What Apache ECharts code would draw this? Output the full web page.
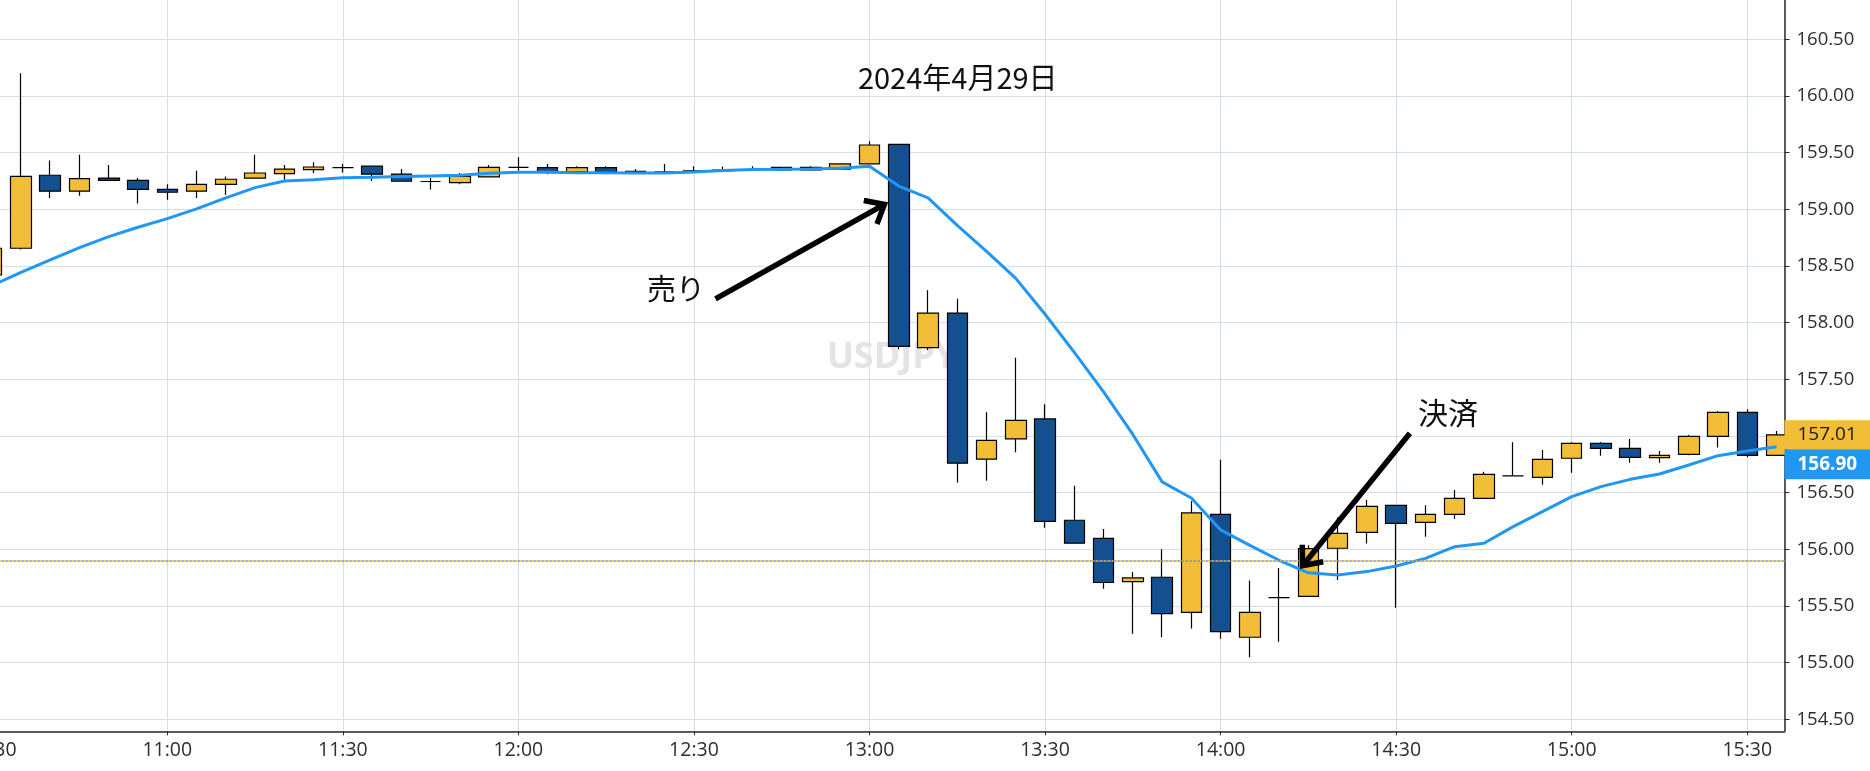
<!DOCTYPE html>
<html>
<head>
<meta charset="utf-8">
<script src="https://cdn.jsdelivr.net/npm/echarts@6/dist/echarts.min.js"></script>
<style>
html,body{margin:0;padding:0;background:#fff;}
#c{width:1870px;height:771px;}
</style>
</head>
<body>
<div id="c"></div>
<script>
// ---------- data ----------
const times = ['10:30','10:35','10:40','10:45','10:50','10:55','11:00','11:05','11:10','11:15',
  '11:20','11:25','11:30','11:35','11:40','11:45','11:50','11:55','12:00','12:05',
  '12:10','12:15','12:20','12:25','12:30','12:35','12:40','12:45','12:50','12:55',
  '13:00','13:05','13:10','13:15','13:20','13:25','13:30','13:35','13:40','13:45',
  '13:50','13:55','14:00','14:05','14:10','14:15','14:20','14:25','14:30','14:35',
  '14:40','14:45','14:50','14:55','15:00','15:05','15:10','15:15','15:20','15:25',
  '15:30','15:35'];
const opens = [158.42,158.656,159.30,159.16,159.275,159.255,159.175,159.16,159.22,159.275,
  159.315,159.35,159.367,159.38,159.31,159.245,159.235,159.285,159.37,159.367,
  159.332,159.367,159.335,159.33,159.34,159.345,159.35,159.347,159.37,159.353,
  159.40,159.573,157.78,158.084,156.795,156.974,157.15,156.256,156.096,155.714,
  155.753,155.443,156.308,155.224,155.574,155.585,156.009,156.15,156.388,156.238,
  156.308,156.45,156.647,156.635,156.803,156.935,156.891,156.808,156.838,156.997,
  157.208,156.829];
const closes = [158.656,159.29,159.16,159.27,159.255,159.175,159.15,159.22,159.265,159.32,
  159.355,159.373,159.367,159.31,159.247,159.245,159.29,159.37,159.37,159.332,
  159.367,159.332,159.327,159.33,159.33,159.34,159.35,159.37,159.347,159.40,
  159.567,157.79,158.084,156.76,156.96,157.137,156.246,156.054,155.707,155.747,
  155.433,156.321,155.273,155.443,155.574,156.006,156.141,156.379,156.229,156.308,
  156.45,156.661,156.647,156.794,156.935,156.891,156.811,156.829,156.997,157.208,
  156.829,157.01];
const lows = [158.40,158.645,159.10,159.12,159.25,159.05,159.085,159.10,159.125,159.27,
  159.26,159.32,159.325,159.25,159.245,159.175,159.22,159.28,159.34,159.31,
  159.33,159.31,159.325,159.325,159.32,159.33,159.34,159.345,159.345,159.35,
  159.397,157.765,157.758,156.59,156.605,156.857,156.19,156.054,155.652,155.254,
  155.224,155.30,155.21,155.048,155.185,155.585,155.73,156.05,155.485,156.111,
  156.267,156.45,156.645,156.57,156.676,156.826,156.764,156.764,156.829,156.897,
  156.811,156.829];
const highs = [158.68,160.20,159.43,159.48,159.39,159.275,159.22,159.34,159.29,159.48,
  159.39,159.415,159.40,159.385,159.355,159.275,159.32,159.39,159.46,159.40,
  159.38,159.38,159.355,159.40,159.38,159.378,159.38,159.375,159.38,159.405,
  159.60,159.575,158.286,158.21,157.21,157.69,157.28,156.56,156.178,155.80,
  156.0,156.426,156.79,155.724,155.835,156.035,156.28,156.435,156.39,156.388,
  156.523,156.685,156.944,156.876,156.947,156.947,156.973,156.867,157.008,157.22,
  157.235,157.044];
const maValues = [158.326,158.444,158.553,158.661,158.758,158.841,158.917,159.003,159.100,159.191,
  159.250,159.261,159.279,159.282,159.288,159.294,159.300,159.317,159.326,159.326,
  159.323,159.323,159.320,159.320,159.329,159.341,159.350,159.352,159.355,159.361,
  159.380,159.205,159.100,158.858,158.629,158.390,158.074,157.738,157.389,157.013,
  156.595,156.452,156.171,156.034,155.903,155.792,155.773,155.803,155.853,155.920,
  156.023,156.053,156.200,156.332,156.464,156.553,156.617,156.664,156.744,156.826,
  156.867,156.905];
const lastPrice = 157.01;
const maLast = 156.90;
const orderPrice = 155.90;
const titleText = '2024年4月29日';
const sellText = '売り';
const closeText = '決済';
const symbolText = 'USDJPY';

// ---------- helpers ----------
function toMin(t){ const p = t.split(':'); return (+p[0])*60 + (+p[1]); }
function fmtTime(v){
  if (Math.abs(v % 30) > 0.01) return '';
  const h = Math.floor(v/60), m = Math.round(v%60);
  return h + ':' + (m < 10 ? '0' + m : m);
}
const X_MIN = 630, X_MAX = 936.36;
const Y_MIN = 154.394, Y_MAX = 160.864;

const candleData = times.map((t,i)=>[toMin(t), opens[i], closes[i], lows[i], highs[i]]);
const maData = times.map((t,i)=>[toMin(t), maValues[i]]);

const chart = echarts.init(document.getElementById('c'), null, {renderer:'canvas'});
const axisColor = '#2b2b2b';
const gridColor = '#d5dfea';

chart.setOption({
  animation:false,
  backgroundColor:'#ffffff',
  grid:{left:-8.27, right:85.5, top:-2, bottom:39.7, containLabel:false, outerBoundsMode:'none'},
  xAxis:{
    type:'value', min:X_MIN, max:X_MAX, interval:30,
    axisLine:{show:true, lineStyle:{color:axisColor, width:1.5}},
    axisTick:{show:true, length:4, lineStyle:{color:axisColor}},
    axisLabel:{formatter:fmtTime, fontSize:19.5, color:'#2e2e2e', margin:9, fontFamily:'Open Sans', showMaxLabel:false, hideOverlap:false},
    splitLine:{show:true, lineStyle:{color:gridColor, width:1}}
  },
  yAxis:{
    type:'value', position:'right', min:Y_MIN, max:Y_MAX, splitNumber:13,
    axisLine:{show:true, lineStyle:{color:axisColor, width:1.5}},
    axisTick:{show:true, length:5, lineStyle:{color:axisColor}},
    axisLabel:{
      formatter:function(v){ return Math.abs(v*2 - Math.round(v*2)) > 0.001 ? '' : v.toFixed(2); },
      fontSize:18.5, color:'#2e2e2e', margin:12, fontFamily:'Open Sans',
      showMinLabel:false, showMaxLabel:false
    },
    splitLine:{show:true, lineStyle:{color:gridColor, width:1}}
  },
  series:[
    {
      type:'candlestick', name:'USDJPY',
      dimensions:['time','open','close','lowest','highest'],
      encode:{x:'time', y:['open','close','lowest','highest']},
      data:candleData,
      barWidth:21,
      clip:true,
      z:2,
      itemStyle:{color:'#f3be37', color0:'#14508f', borderColor:'#000000', borderColor0:'#000000', borderWidth:1.2},
      markLine:{
        silent:true, symbol:'none', animation:false,
        label:{show:false},
        lineStyle:{color:'#efc03a', type:[2,2], width:1.6},
        data:[{yAxis:orderPrice}]
      }
    },
    {
      type:'line', name:'MA',
      data:maData,
      showSymbol:false, symbol:'none', clip:true, z:3,
      lineStyle:{color:'#2196f3', width:3},
      markLine:{
        silent:true, symbol:'none', animation:false,
        label:{show:false},
        lineStyle:{color:'#6f8fbf', type:[2,2], dashOffset:2, width:1.6},
        data:[{yAxis:orderPrice}]
      }
    }
  ]
});

// ---------- annotations anchored to data coordinates ----------
const P = (pt)=>chart.convertToPixel({xAxisIndex:0, yAxisIndex:0}, pt);
const sellArrow = {tail:[753.68,158.2085], tip:[782.55,159.0424]};
const closeArrow = {tail:[872.35,157.0235], tip:[854.01,155.855]};
const sellLabelAt = [746.93,158.2997];
const closeLabelAt = [878.85,157.2027];
const titleAt = [795.08,160.1585];

function arrowEls(arr){
  const a = P(arr.tail), b = P(arr.tip);
  const ang = Math.atan2(a[1]-b[1], a[0]-b[0]);
  const L = 21, h = 40*Math.PI/180;
  const p1 = [b[0]+L*Math.cos(ang+h), b[1]+L*Math.sin(ang+h)];
  const p2 = [b[0]+L*Math.cos(ang-h), b[1]+L*Math.sin(ang-h)];
  return [
    {type:'line', z:50, shape:{x1:a[0], y1:a[1], x2:b[0], y2:b[1]}, style:{stroke:'#000', lineWidth:5.5}},
    {type:'polyline', z:50, shape:{points:[p1,b,p2]}, style:{stroke:'#000', lineWidth:5.5, fill:null, lineJoin:'miter'}}
  ];
}
function textEl(str, at, size){
  const p = P(at);
  return {type:'text', z:50, x:p[0], y:p[1],
    style:{text:str, fontSize:size, fontFamily:'"Noto Sans CJK JP"', fill:'#111',
      align:'center', verticalAlign:'middle', textAlign:'center', textVerticalAlign:'middle'}};
}

const gridRight = P([X_MAX, lastPrice])[0];
const yLast = P([X_MAX, lastPrice])[1];
const yMa = P([X_MAX, maLast])[1];
const tag1H = 29, tag2H = 30;
const tag1Top = yLast - tag1H/2;
const tag2Top = Math.max(yMa - tag2H/2, tag1Top + tag1H);
const tagW = 1870 - gridRight;

const graphics = [
  {type:'text', z:1, x:892, y:358,
    style:{text:symbolText, fontSize:36, fontWeight:'bold', fontFamily:'"Open Sans"', fill:'#e4e4e4',
      align:'center', verticalAlign:'middle', textAlign:'center', textVerticalAlign:'middle'}},
  ...arrowEls(sellArrow),
  ...arrowEls(closeArrow),
  textEl(sellText, sellLabelAt, 29),
  textEl(closeText, closeLabelAt, 30),
  textEl(titleText, titleAt, 29),
  {type:'rect', z:100, shape:{x:gridRight, y:tag1Top, width:tagW, height:tag1H}, style:{fill:'#f3be37'}},
  {type:'text', z:101, x:gridRight+13, y:tag1Top+tag1H/2,
    style:{text:lastPrice.toFixed(2), fontSize:19, fontFamily:'"Open Sans"', fill:'#1a1a1a',
      align:'left', verticalAlign:'middle', textAlign:'left', textVerticalAlign:'middle'}},
  {type:'rect', z:100, shape:{x:gridRight, y:tag2Top, width:tagW, height:tag2H}, style:{fill:'#2196f3'}},
  {type:'text', z:101, x:gridRight+13, y:tag2Top+tag2H/2,
    style:{text:maLast.toFixed(2), fontSize:19, fontWeight:'bold', fontFamily:'"Open Sans"', fill:'#ffffff',
      align:'left', verticalAlign:'middle', textAlign:'left', textVerticalAlign:'middle'}}
];
chart.setOption({graphic:{elements:graphics}});
</script>
</body>
</html>
